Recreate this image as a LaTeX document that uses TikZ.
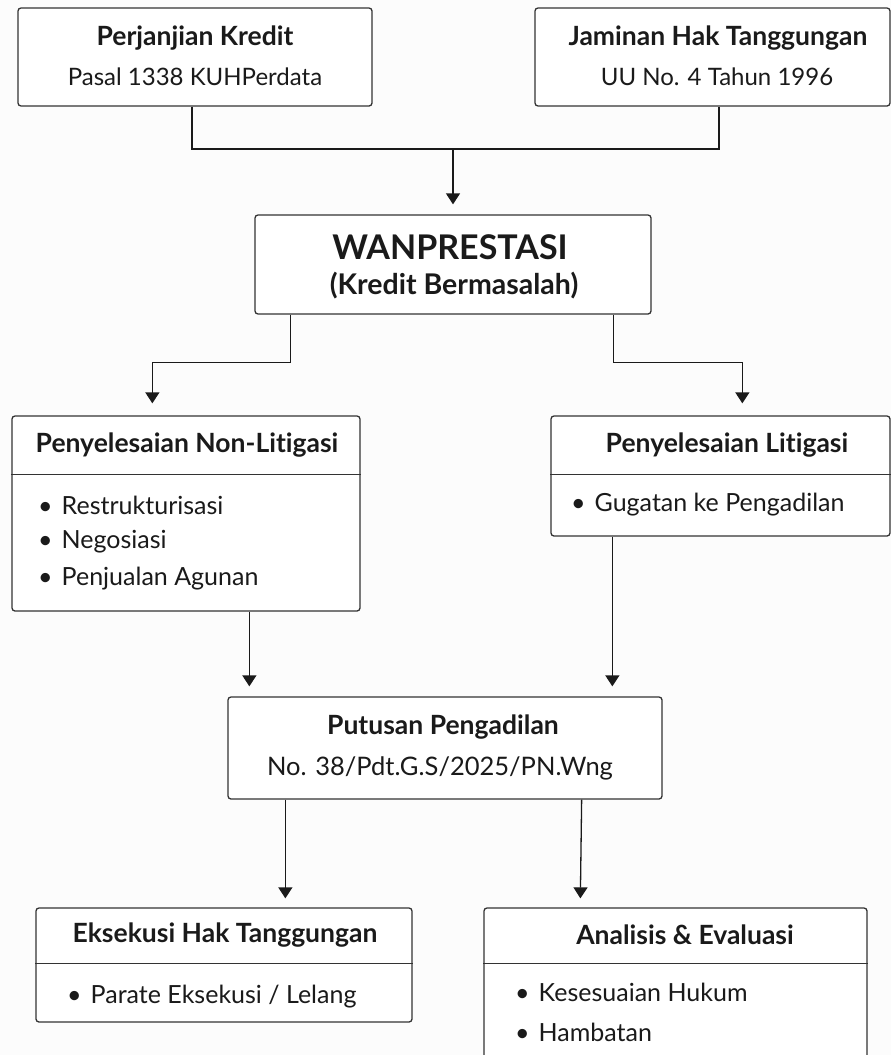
\documentclass[tikz,border=0pt]{standalone}
\usepackage{fontspec}
\setmainfont{Lato}[Ligatures={NoCommon}]
\usetikzlibrary{arrows.meta,calc}
\definecolor{ink}{HTML}{1A1A1A}
\definecolor{edge}{HTML}{333333}
\definecolor{paper}{HTML}{FCFCFC}
\tikzset{
  box/.style={draw=edge, line width=1.3pt, rounded corners=3pt, inner sep=0pt, fill=white},
  conn/.style={draw=ink, line width=1.3pt},
  arr/.style={conn, -{Triangle[width=14pt,length=11pt]}},
  divider/.style={draw=edge, line width=1.3pt},
  ttl/.style={text=ink, font=\fontsize{26.5}{30}\selectfont\bfseries, inner sep=0pt},
  sub/.style={text=ink, font=\fontsize{24}{28}\selectfont, inner sep=0pt},
  item/.style={text=ink, font=\fontsize{25}{29}\selectfont, inner sep=0pt, anchor=west},
}
\begin{document}
\begin{tikzpicture}[x=1pt,y=-1pt]
\fill[paper] (0,0) rectangle (891,1055);
\useasboundingbox (0,0) rectangle (891,1055);

% boxes
\node[box, minimum width=354pt, minimum height=98pt] (pk) at (195,57) {};
\node[box, minimum width=355pt, minimum height=98pt] (jh) at (712.5,57) {};
\node[box, minimum width=396pt, minimum height=99pt] (wan) at (453,264.5) {};
\node[box, minimum width=348pt, minimum height=195pt] (nl) at (186,513.5) {};
\node[box, minimum width=339pt, minimum height=120pt] (lit) at (720.5,476) {};
\node[box, minimum width=434pt, minimum height=102pt] (put) at (445,748) {};
\node[box, minimum width=376pt, minimum height=114pt] (eks) at (224,965) {};
\node[box, minimum width=383pt, minimum height=170pt] (ana) at (675.5,993) {};

% dividers
\draw[divider] ($(nl.north west)+(0,59)$) -- ($(nl.north east)+(0,59)$);
\draw[divider] ($(lit.north west)+(0,59)$) -- ($(lit.north east)+(0,59)$);
\draw[divider] ($(eks.north west)+(0,56)$) -- ($(eks.north east)+(0,56)$);
\draw[divider] ($(ana.north west)+(0,56)$) -- ($(ana.north east)+(0,56)$);

% texts
\node[ttl] (pkt) at (195,38) {Perjanjian Kredit};
\node[sub] (pks) at (195,77) {Pasal 1338 KUHPerdata};
\node[ttl] (jht) at (718,38) {Jaminan Hak Tanggungan};
\node[sub] (jhs) at (717,77) {UU No. 4 Tahun 1996};
\node[text=ink, font=\fontsize{34}{38}\selectfont\bfseries, inner sep=0pt] (want) at (450,247) {WANPRESTASI};
\node[text=ink, font=\fontsize{28.5}{32}\selectfont\bfseries, inner sep=0pt] (wans) at (454,286) {(Kredit Bermasalah)};
\node[ttl] (nlt) at (187,445) {Penyelesaian Non-Litigasi};
\node[item] (nl1) at (38,505) {•\hspace{9pt}Restrukturisasi};
\node[item] (nl2) at (38,542) {•\hspace{9pt}Negosiasi};
\node[item] (nl3) at (38,579) {•\hspace{9pt}Penjualan Agunan};
\node[ttl] (litt) at (727,445) {Penyelesaian Litigasi};
\node[item] (lit1) at (571,505) {•\hspace{9pt}Gugatan ke Pengadilan};
\node[ttl] (putt) at (443,727) {Putusan Pengadilan};
\node[sub, font=\fontsize{25.5}{29}\selectfont] (puts) at (440,768) {No. 38/Pdt.G.S/2025/PN.Wng};
\node[ttl] (ekst) at (225,935) {Eksekusi Hak Tanggungan};
\node[item] (eks1) at (67,997) {•\hspace{9pt}Parate Eksekusi / Lelang};
\node[ttl] (anat) at (685,935) {Analisis \& Evaluasi};
\node[item] (ana1) at (515,992) {•\hspace{9pt}Kesesuaian Hukum};
\node[item] (ana2) at (515,1032) {•\hspace{9pt}Hambatan};

% connectors
\coordinate (merge) at (453,149);
\draw[conn] ([xshift=-3pt]pk.south) |- (merge) -| ([xshift=6.5pt]jh.south);
\draw[arr] (merge) -- ([yshift=10pt]wan.north);
\draw[arr] ([xshift=36pt]wan.south west) -- ++(0,48) -| ([xshift=141pt,yshift=12pt]nl.north west);
\draw[arr] ([xshift=-38pt]wan.south east) -- ++(0,48) -| ([xshift=192pt,yshift=12pt]lit.north west);
\draw[arr] ([xshift=238pt]nl.south west) -- ([xshift=22pt,yshift=10pt]put.north west);
\draw[arr] ([xshift=62pt]lit.south west) -- ([xshift=385pt,yshift=10pt]put.north west);
\draw[arr] ([xshift=58pt]put.south west) -- ([xshift=250pt,yshift=9pt]eks.north west);
\draw[arr] ([xshift=-81pt]put.south east) -- ([xshift=97pt,yshift=9pt]ana.north west);
\end{tikzpicture}
\end{document}
